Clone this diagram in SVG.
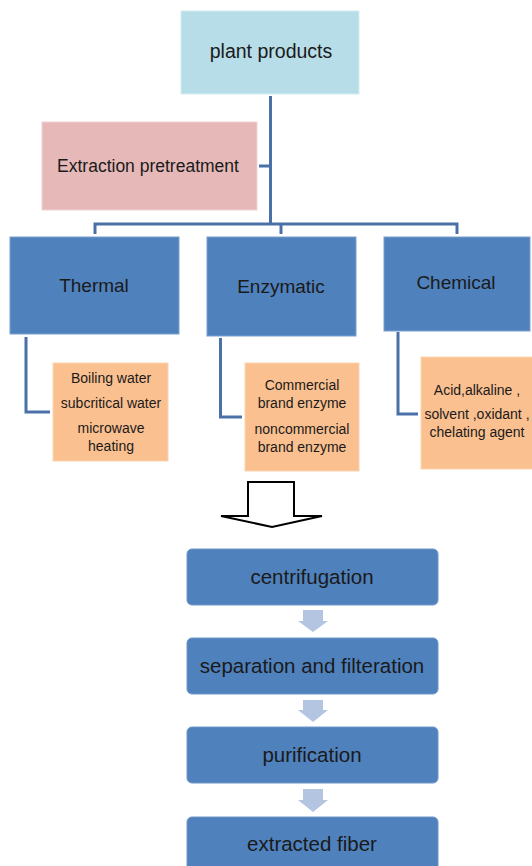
<svg xmlns="http://www.w3.org/2000/svg" width="532" height="866" viewBox="0 0 532 866">
<style>
text{font-family:"Liberation Sans",Arial,sans-serif;fill:#1a1a1a;text-anchor:middle}
.conn{fill:none;stroke:#4a70a8;stroke-width:3}
.cat{fill:#4f81bd;stroke:#7aa0d0;stroke-width:1}
.sub{fill:#fac090;stroke:#fbd3b0;stroke-width:1}
.step{fill:#4f81bd;stroke:#6e96c8;stroke-width:1}
.darr{fill:#b3c5e1}
.big{font-size:19px}
.mid{font-size:20.5px}
.sm{font-size:14px}
</style>
<rect width="532" height="866" fill="#ffffff"/>
<g id="connectors">
<path class="conn" d="M270.5,96 V224"/>
<path class="conn" d="M259,166 H270.5"/>
<path class="conn" d="M95,234 V224 H457 V234"/>
<path class="conn" d="M281,224 V234"/>
<path class="conn" d="M26,337 V412 H50"/>
<path class="conn" d="M220.5,338 V417 H242"/>
<path class="conn" d="M398,332 V414 H418"/>
<path d="M248,482 H294 V516 H322 L272,527 L221,516 H248 Z" fill="#ffffff" stroke="#000000" stroke-width="2" stroke-linejoin="miter"/>
<path class="darr" d="M303,610 H323 V621 H328 L313,632 L298,621 H303 Z"/>
<path class="darr" d="M303,700 H323 V710 H328 L313,722 L298,710 H303 Z"/>
<path class="darr" d="M303,789 H323 V800 H328 L313,812 L298,800 H303 Z"/>
</g>
<g id="plant-products">
<rect x="181" y="11" width="178" height="83" fill="#b7dde8" stroke="#d5ecf2" stroke-width="1"/>
<text x="271" y="58" style="font-size:19.5px">plant products</text>
</g>
<g id="extraction-pretreatment">
<rect x="42" y="122" width="215" height="88" fill="#e6b9b8" stroke="#f0d3d2" stroke-width="1"/>
<text x="148" y="172" style="font-size:17.5px">Extraction pretreatment</text>
</g>
<g id="thermal">
<rect class="cat" x="10" y="237" width="169" height="97"/>
<text class="big" x="94" y="292">Thermal</text>
</g>
<g id="enzymatic">
<rect class="cat" x="207" y="237" width="149" height="99"/>
<text class="big" x="281" y="293">Enzymatic</text>
</g>
<g id="chemical">
<rect class="cat" x="384" y="237" width="146" height="94"/>
<text class="big" x="456" y="289">Chemical</text>
</g>
<g id="thermal-methods">
<rect class="sub" x="53" y="363" width="115" height="98"/>
<text class="sm" x="111" y="383">Boiling water</text>
<text class="sm" x="111" y="408">subcritical water</text>
<text class="sm" x="111" y="433">microwave</text>
<text class="sm" x="111" y="451">heating</text>
</g>
<g id="enzymatic-methods">
<rect class="sub" x="245" y="363" width="114" height="108"/>
<text class="sm" x="302" y="390">Commercial</text>
<text class="sm" x="302" y="408">brand enzyme</text>
<text class="sm" x="302" y="434">noncommercial</text>
<text class="sm" x="302" y="452">brand enzyme</text>
</g>
<g id="chemical-methods">
<rect class="sub" x="421" y="357" width="112" height="112"/>
<text class="sm" x="477" y="395">Acid,alkaline ,</text>
<text class="sm" x="477" y="419">solvent ,oxidant ,</text>
<text class="sm" x="477" y="437">chelating agent</text>
</g>
<g id="centrifugation">
<rect class="step" x="187" y="549" width="251" height="56" rx="5"/>
<text class="mid" x="312" y="584">centrifugation</text>
</g>
<g id="separation">
<rect class="step" x="187" y="638" width="251" height="56" rx="5"/>
<text class="mid" x="312" y="673">separation and filteration</text>
</g>
<g id="purification">
<rect class="step" x="187" y="727" width="251" height="56" rx="5"/>
<text class="mid" x="312" y="762">purification</text>
</g>
<g id="extracted-fiber">
<rect class="step" x="187" y="817" width="251" height="60" rx="5"/>
<text class="mid" x="312" y="851">extracted fiber</text>
</g>
</svg>
